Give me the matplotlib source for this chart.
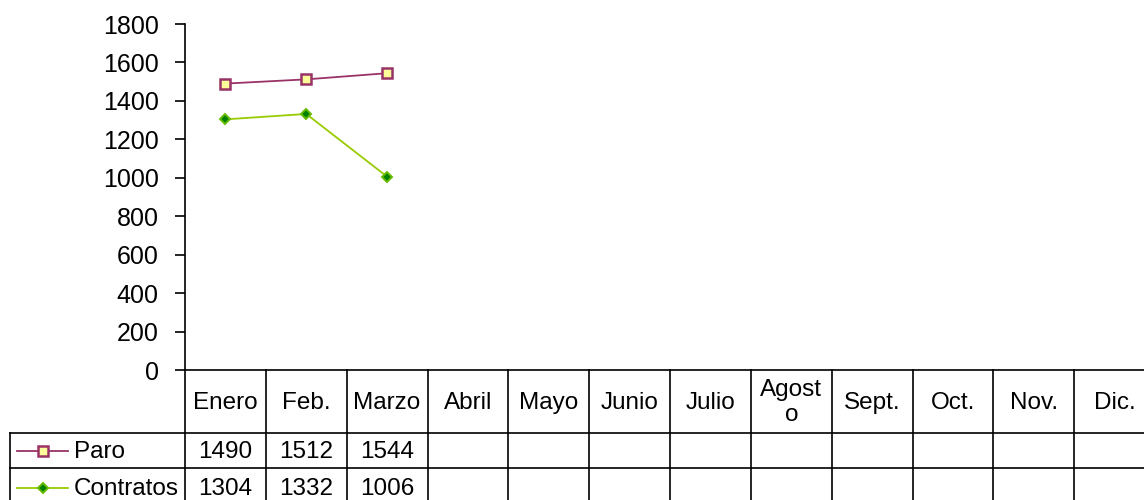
import matplotlib
matplotlib.use("Agg")
import matplotlib.pyplot as plt

plt.rcParams['font.family'] = ['Liberation Sans', 'DejaVu Sans']

months = ['Enero', 'Feb.', 'Marzo', 'Abril', 'Mayo', 'Junio', 'Julio',
          'Agost\no', 'Sept.', 'Oct.', 'Nov.', 'Dic.']
paro = [1490, 1512, 1544]
contratos = [1304, 1332, 1006]
yticks = [0, 200, 400, 600, 800, 1000, 1200, 1400, 1600, 1800]

W, H = 1144, 500
fig = plt.figure(figsize=(W / 100, H / 100), dpi=100)
FS = 17.5

# chart area (pixel geometry of the reference)
left, right, top, axis_y = 185, 1155, 24, 370
ax = fig.add_axes([left / W, (H - axis_y) / H, (right - left) / W, (axis_y - top) / H])
xs_p = [i + 0.5 for i in range(len(paro))]
xs_c = [i + 0.5 for i in range(len(contratos))]
paro_style = dict(color='#993366', lw=1.3, marker='s', ms=7,
                  mfc='#FFFF99', mec='#993366', mew=1.8)
contr_style = dict(color='#99CC00', lw=1.3, marker='D', ms=5.5,
                   mfc='#008000', mec='#66BB00', mew=1.4)
ax.plot(xs_p, paro, **paro_style)
ax.plot(xs_c, contratos, **contr_style)
ax.set_xlim(0, len(months))
ax.set_ylim(0, 1800)
ax.set_yticks(yticks)
ax.set_xticks([])
ax.tick_params(axis='y', length=7, width=1.2, pad=12, labelsize=FS + 0.5)
for s in ['top', 'right']:
    ax.spines[s].set_visible(False)
ax.spines['left'].set_linewidth(1.2)
ax.spines['bottom'].set_linewidth(1.2)

# data table below the axis
tab = fig.add_axes([left / W, 0, (right - left) / W, (H - axis_y) / H])
tab.set_xlim(0, len(months))
tab.set_ylim(0, H - axis_y)
tab.axis('off')
colw = (right - left) / len(months)
leg_x = (10 - left) / colw
y_top, y_hdr, y_r1, y_r2 = 130, 67, 32, -3
lc = dict(color='black', lw=1.2, clip_on=False)
for i in range(len(months) + 1):
    tab.plot([i, i], [y_top, y_r2], **lc)
tab.plot([leg_x, leg_x], [y_hdr, y_r2], **lc)
for yy in [y_hdr, y_r1]:
    tab.plot([leg_x, len(months)], [yy, yy], **lc)

for i, m in enumerate(months):
    if '\n' in m:
        tab.text(i + 0.5, (y_top + y_hdr) / 2 - 1, m, ha='center', va='center',
                 fontsize=FS, linespacing=1.15, clip_on=False)
    else:
        tab.text(i + 0.5, 91, m, ha='center', va='baseline',
                 fontsize=FS, clip_on=False)

rows = [('Paro', paro, paro_style, 48),
        ('Contratos', contratos, contr_style, 11)]
for name, vals, st, yc in rows:
    x0, x1 = (17 - left) / colw, (68 - left) / colw
    tab.plot([x0, x1], [yc + 1, yc + 1], clip_on=False, color=st['color'], lw=1.3)
    tab.plot([(x0 + x1) / 2], [yc + 1], clip_on=False, ls='none', **{k: v for k, v in st.items() if k not in ('color', 'lw')})
    tab.text((74 - left) / colw, yc, name, ha='left', va='center', fontsize=FS, clip_on=False)
    for i, v in enumerate(vals):
        tab.text(i + 0.5, yc, str(v), ha='center', va='center', fontsize=FS, clip_on=False)

fig.savefig('out.png', dpi=100)
